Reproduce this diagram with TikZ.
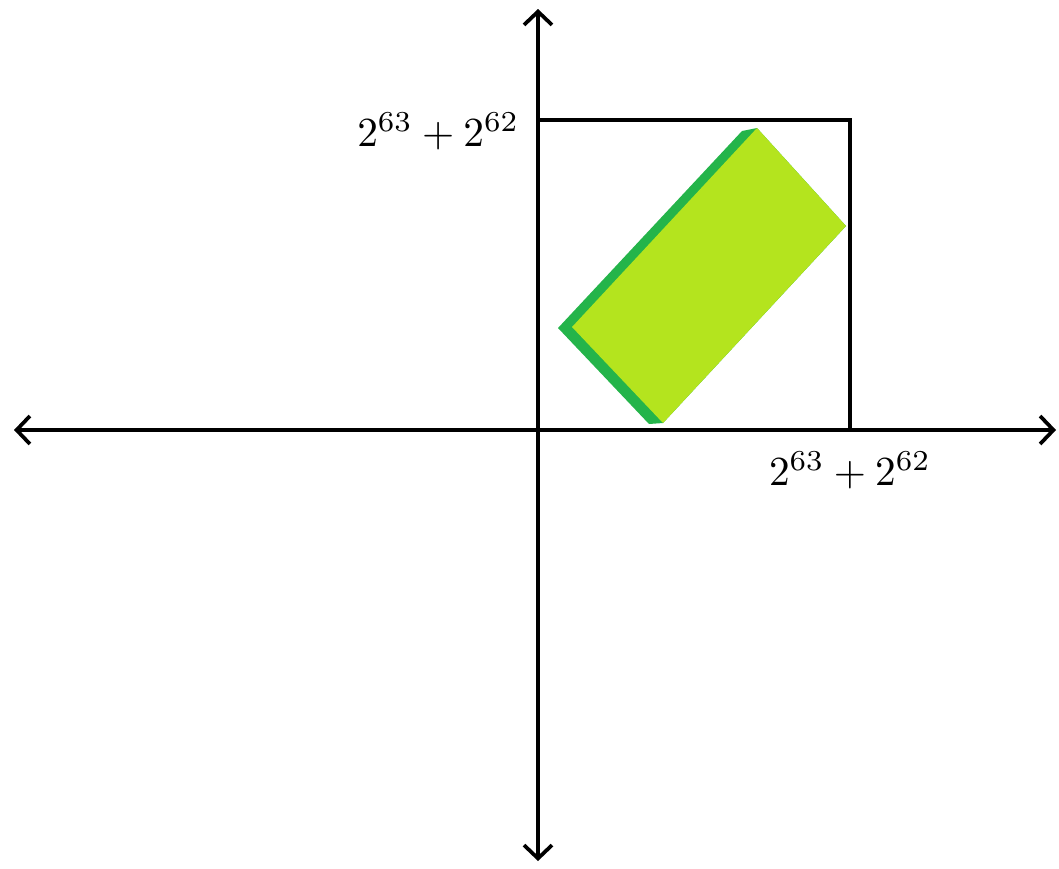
\documentclass[tikz,border=0pt]{standalone}
\usepackage{amsmath}
\usepackage{tikz}
\usepackage{xcolor}
\usetikzlibrary{arrows.meta}

\definecolor{darkgreen}{RGB}{36,180,74}
\definecolor{limegreen}{RGB}{180,228,30}

\begin{document}
\begin{tikzpicture}[
    x=0.75pt, y=-0.75pt,
    axis/.style={{Straight Barb[length=10pt,width=21pt]}-{Straight Barb[length=10pt,width=21pt]}, line width=2.8pt, line cap=round, line join=round},
    bound/.style={draw, line width=2.8pt},
    lbl/.style={inner sep=0pt, scale=3.1}
]
    \useasboundingbox (0,0) rectangle (1059,868);

    % axes
    \coordinate (xl) at (14,430);
    \coordinate (xr) at (1056,430);
    \coordinate (yt) at (538,9);
    \coordinate (yb) at (538,861);
    \coordinate (o) at (538,430);
    \coordinate (c) at (850,120);

    % rotated box
    \fill[darkgreen] (742,131) -- (757,128) -- (846,226) -- (663,423) -- (649,424) -- (558,328) -- cycle;
    \fill[limegreen] (757,128) -- (846,226) -- (663,423) -- (572,327) -- cycle;

    \draw[bound] (o) rectangle (c);
    \draw[axis] (xl) -- (xr);
    \draw[axis] (yb) -- (yt);

    \node[lbl, anchor=east] (ylab) at (520,131) {$2^{63}+2^{62}$};
    \node[lbl] (xlab) at (850,470) {$2^{63}+2^{62}$};
\end{tikzpicture}
\end{document}
